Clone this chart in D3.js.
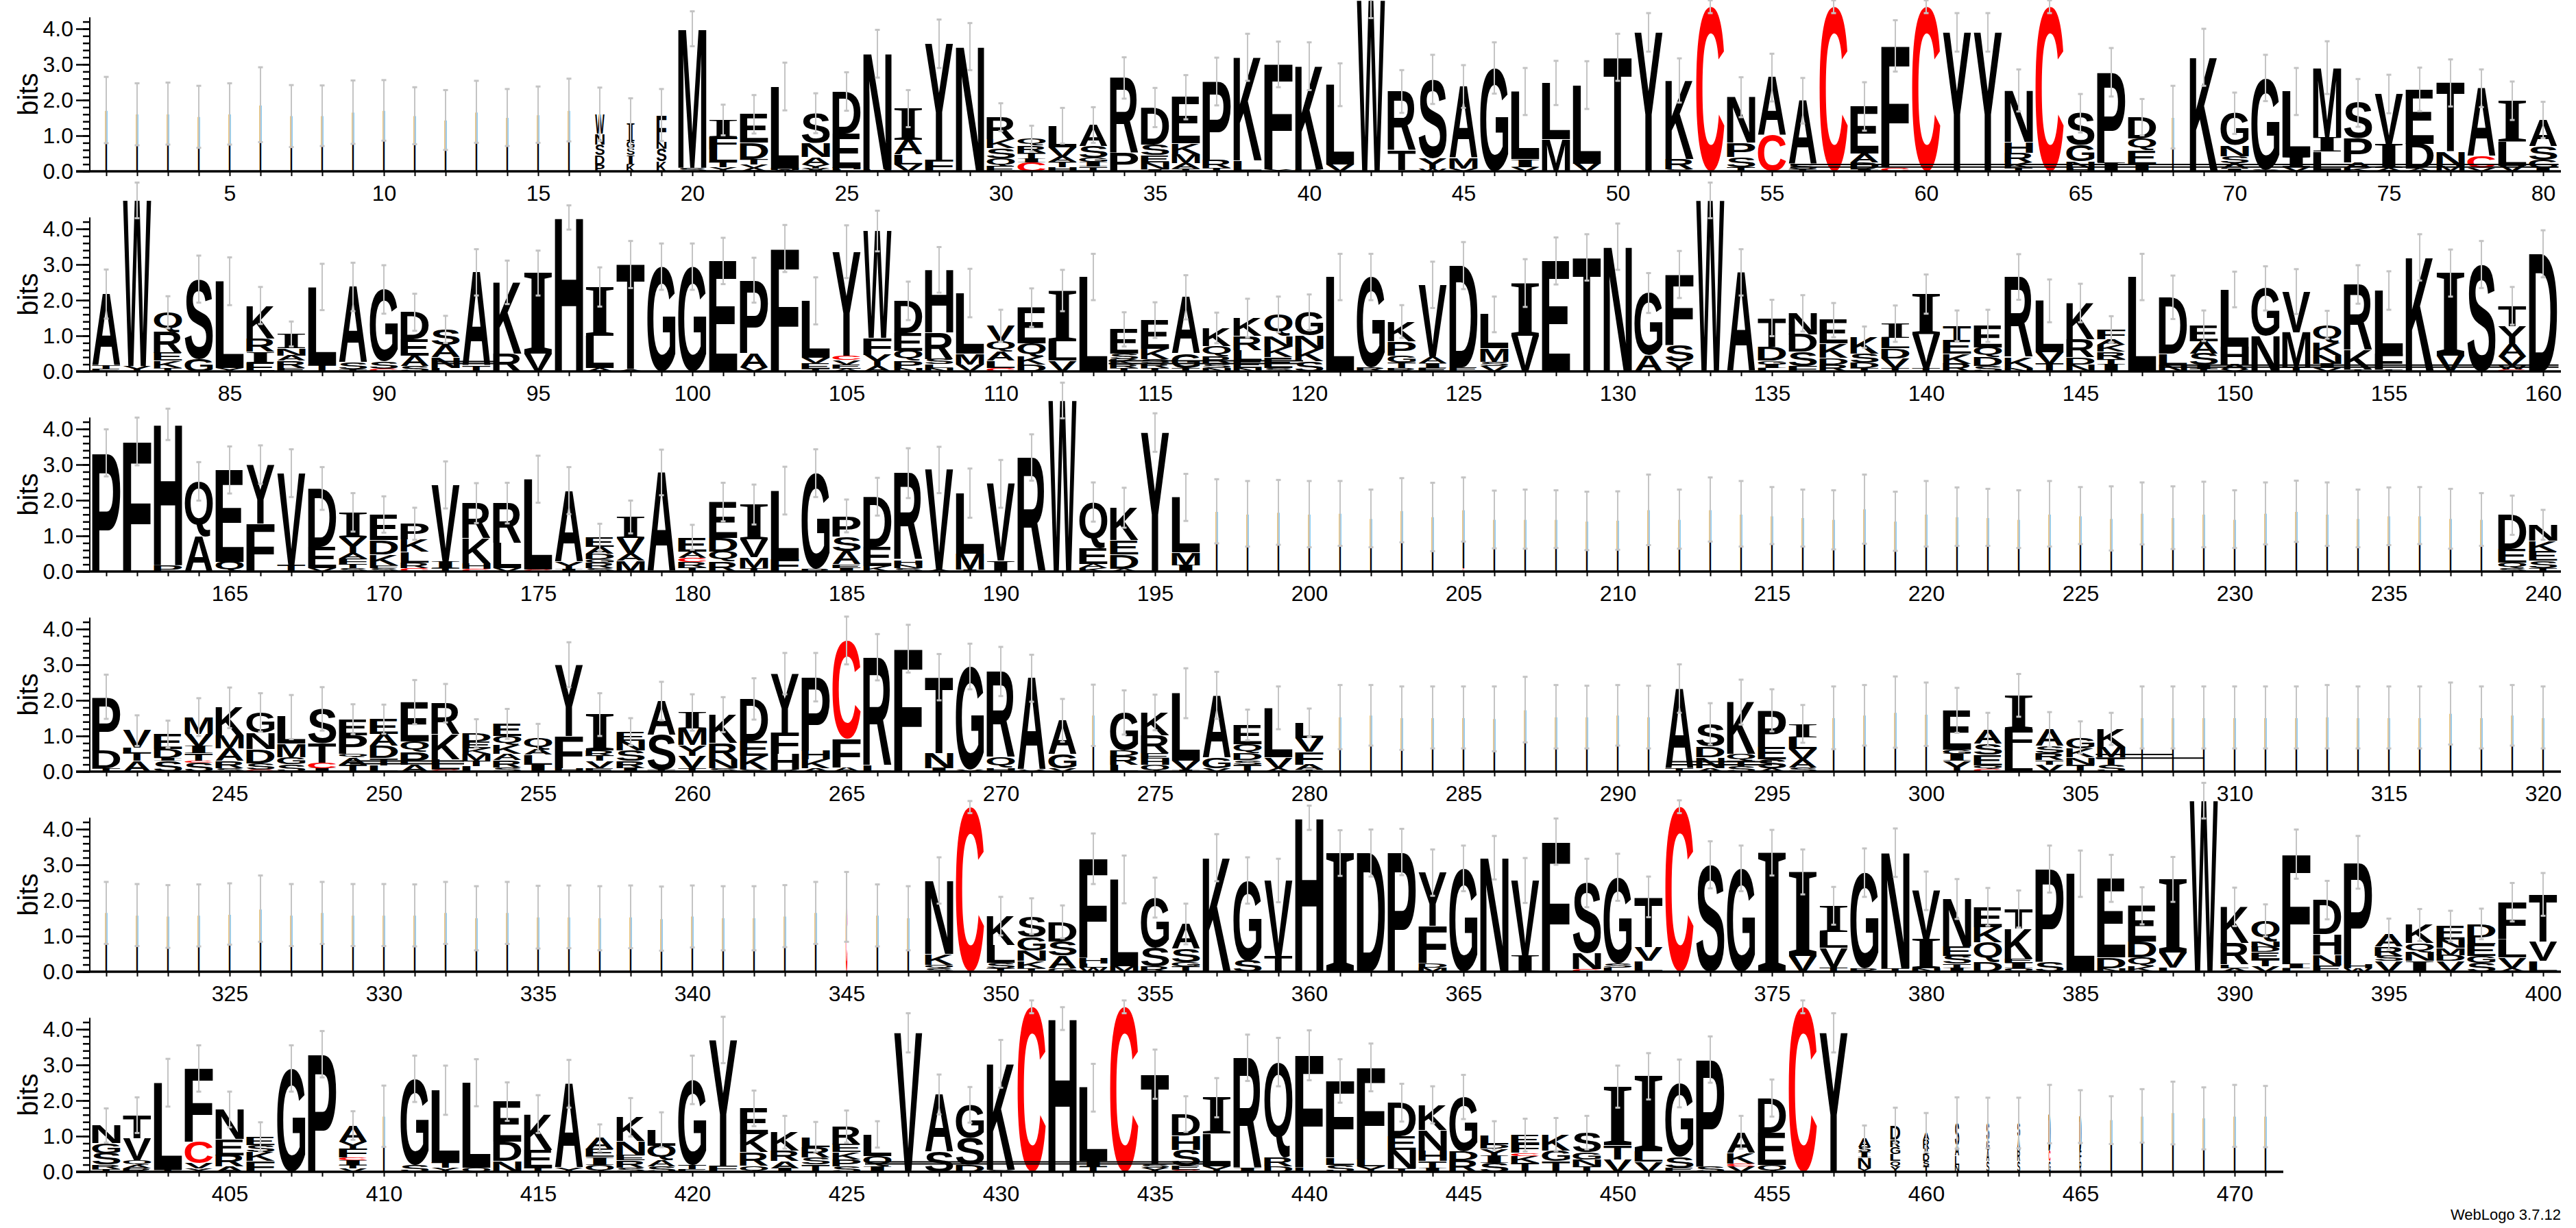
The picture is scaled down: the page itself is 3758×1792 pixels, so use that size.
<!DOCTYPE html>
<html>
<head>
<meta charset="utf-8">
<script src="https://cdn.jsdelivr.net/npm/d3@7"></script>
<style>
  body { margin: 0; background: #fff; }
</style>
</head>
<body>
<svg id="logo" width="3758" height="1792"></svg>
<script>
// each stack: "letter+bits" from bottom to top
const row1 = [
"I1.72","I1.6","I1.62","I1.53","I1.61","I1.87","I1.55","I1.56","I1.66","I1.71",
"I1.56","I1.44","I1.67","I1.51","I1.59","I1.72","P.2 D.25 S.3 N.3 W.55","K.2 I.25 S.2 G.2 I.5","K.28 S.35 N.2 F.75","S.1 M3.9",
"Y.12 T.15 L.35 F.35 I.47","A.1 V.1 T.15 D.45 E.8","A.04 H.04 L2.3","I.04 V.04 Y.12 A.2 N.4 S.83","L.05 H.05 E.95 D1.19","H.05 N3.25","V.2 L.27 A.42 I.87","F.33 Y3.25","E.02 N3.48","E.15 Q.22 S.28 K.25 R.62",
"C.25 I.1 T.17 R.2 Q.2","H.12 T.14 A.14 V.28 L.6","T.13 I.13 G.12 S.32 A.6","P.52 R2.1","I.05 N.2 E.2 S.3 D1.04","T.08 A.15 M.25 K.3 E1.3","T.1 R.22 P2.2","L.3 K2.9","Y.05 F2.95","R.05 K2.9",
"V.2 L2.23","W4.8","S.03 T.55 R1.66","W.08 Y.3 S2.2","V.08 M.3 A2.0","G2.9","V.12 I.22 L1.9","M.9 L1.58","V.22 L2.2","T3.2",
"Y3.9","S.05 R.3 K2.2","C4.62","T.12 S.28 P.4 N1.28","C1.0 A1.63","T.05 S.15 A1.78","C4.62","I.05 D.2 A.25 E1.32","C.1 F3.42","C4.62",
"Y3.9","Y3.9","T.1 K.15 R.27 H.3 N1.45","C4.62","H.1 N.18 G.45 S.9","I.25 P2.53","I.2 E.4 Q.32 D.6","I1.52","K3.2","I.08 A.15 S.2 N.3 G.9",
"S.05 G2.57","V.13 I.27 L1.84","L.55 I.4 M1.96","K.1 A.15 P.67 S1.0","A.1 I.67 V1.4","A.07 D.7 E1.53","M.15 N.4 T1.93","V.1 C.32 A1.91","V.16 L.67 I1.15","I.1 G.22 S.38 A.74"
];
const row2 = [
"E.07 T.1 A2.0","Y.15 W4.65","T.1 K.2 E.22 R.6 Q.54","G.35 S2.24","Y.1 L2.43","E.25 I.3 R.38 K.92","E.1 R.2 A.15 N.2 I.4","T.2 L2.17","T.05 S.2 A2.12","C.08 S.2 G2.02",
"S.15 A.3 E.46 D.75","L.1 N.3 A.35 S.43","T.15 A2.63","R.5 K2.0","V.5 I2.26","H4.32","A.1 L.9 I1.37","A.05 T2.95","G2.94","G2.94",
"E3.1","V.12 A.4 P2.04","F3.45","T.08 E.15 V.15 L1.6","A.08 E.12 V.12 C.12 Y2.92","A.15 Y.32 F.47 W3.0","N.1 P.2 Q.28 E.5 D.9","N.1 L.1 S.15 R.75 H1.75","V.2 M.3 L1.7","C.1 L.2 A.25 Q.3 V.43",
"D.2 K.22 Q.37 E1.0","V.3 L.55 I1.42","L2.65","T.1 R.1 K.15 S.15 E.68","T.1 R.12 S.12 K.3 E.8","T.1 G.4 A1.58","N.1 S.12 R.2 Q.3 K.5","N.1 E.2 L.3 R.4 K.5","S.1 E.3 K.3 N.3 Q.6","S.28 K.35 N.38 G.65",
"L2.65","R.12 G2.53","R.1 T.15 G.2 P.4 K.55","E.1 I.12 A.18 V2.03","E.12 D2.85","V.15 S.12 M.38 L.95","V1.0 I1.48","E3.1","T3.2","N3.5",
"A.45 G1.75","Y.28 S.45 F1.99","W4.8","A2.78","L.1 I.1 G.1 D.4 T.8","F.15 S.4 D.48 N.6","R.2 D.18 K.4 E.66","T.1 D.15 S.25 K.46","T.1 V.27 D.28 L.3 I.39","T.1 V.95 I1.12",
"R.22 K.28 E.38 T.4","S.15 D.25 Q.27 E.61","N.1 K.3 R2.25","T.22 V.32 L1.44","N.2 D.2 R.5 K1.02","I.2 T.15 R.2 K.2 A.15 F.28","L2.65","N.2 L.3 D1.58","T.08 I.1 S.32 A.35 E.43","V.05 A.15 H.5 L1.6",
"N1.0 G1.33","T.12 M.98 V1.14","V.1 I.12 N.25 K.35 Q.49","T.05 K.55 R1.84","T.05 F.45 L1.77","K3.2","V.45 I2.31","S3.0","C.05 W.12 V.25 A.35 Y.5 T.57","D3.3"
];
const row3 = [
"P3.33","F3.65","P.18 H3.95","A1.0 Q1.53","Q.27 E2.58","F1.35 Y1.65","T.2 V2.56","V.1 E.6 D1.63","S.1 T.12 F.14 A.15 Y.45 I.7","S.1 F.08 K.3 D.4 E.72",
"C.1 R.15 L.3 K.35 P.44","T.1 I.18 V2.15","C.08 H.15 K.7 R.99","V.1 L.7 R1.12","C.05 L2.54","I.08 Y.2 A1.99","S.1 R.15 G.1 D.15 A.2 E.26","M.3 A.2 V.45 I.58","A2.78","T.12 R.15 C.12 A.17 E.4",
"R.28 Q.28 D.38 E1.01","T.1 M.3 V.5 I.98","F.35 L1.92","R.08 G2.68","I.1 E.1 A.38 S.4 P.58","K.15 E.55 D1.4","S.1 N.1 H.12 R2.44","A.05 V2.8","I.05 M.45 L1.7","I.3 V2.16",
"R3.2","W4.8","K.1 A.12 E.45 Q1.28","A.08 D.4 E.4 K.91","Y3.9","I.18 M.35 L1.55","I1.69","I1.62","I1.66","I1.61",
"I1.63","I1.49","I1.72","I1.53","C.1 I1.64","I1.46","I1.47","I1.47","I1.42","I1.43",
"I1.73","I1.47","I1.74","I1.62","I1.57","I1.5","I1.45","I1.75","I1.41","I1.62",
"I1.54","I1.52","I1.47","I1.62","I1.57","I1.49","I1.63","I1.51","I1.6","I1.47",
"I1.63","I1.69","I1.61","I1.49","I1.55","I1.57","I1.48","I1.46","S.1 Q.15 E.38 D.95","T.1 S.2 E.26 K.3 N.45"
];
const row4 = [
"T.1 D.5 P1.5","A.3 T.22 L.15 V.48","S.3 I.08 D.25 E.42","S.25 C.06 T.2 I.2 V.35 M.47","S.1 R.2 A.35 M.36 K.78","C.05 S.18 D.4 N.45 G.58","S.2 G.2 M.38 L.75","I.1 C.15 T.55 S.96","T.2 A.2 Q.1 P.52 E.45","L.18 T.2 D.35 A.32 E.42",
"A.2 P.35 Q.3 E1.1","C.05 L.3 K.7 R.87","L.15 T.15 M.2 K.15 E.2 D.23","S.12 R.2 A.18 K.25 Q.25 E.34","I.2 L.28 A.15 Q.33","H.1 F.9 Y2.0","E.1 V.2 T.15 R.15 I1.0","I.1 R.2 S.3 N.27 E.25","T.05 S.98 A.95","T.1 V.35 Y.3 M.46 I.45",
"S.1 N.25 R.45 K.8","S.05 K.4 E.42 D1.17","R.05 H.45 F.6 Y1.65","A.1 K.25 H.25 P2.05","A.12 F.8 C2.76","L.18 R3.03","F3.45","I.1 N.42 T2.13","V.05 G2.9","H.1 Q.3 R2.41",
"V.05 A2.57","V.1 G.4 A.94","I1.58","L.2 R.25 D.15 G1.06","Q.2 H.16 E.15 R.5 K.65","I.05 V.25 L1.9","V.1 G.3 A1.74","T.2 S.12 D.2 Q.25 E.54","A.1 V.3 L1.39","T.05 A.15 F.35 V.4 L.42",
"I1.53","I1.58","I1.5","I1.52","I1.52","I1.48","I1.74","I1.54","I1.53","I1.58",
"I1.53","T.1 A2.23","A.1 N.3 D.3 S.64","S.15 T.15 Q.2 K1.45","A.1 S.25 E.35 P1.02","S.12 A.22 V.3 L.33 I.37","I1.51","I1.58","I1.67","I1.61",
"Y.3 I.2 G.12 E1.1","C.08 Q.1 E.3 S.3 A.4","L.6 F.6 I.94","V.2 T.12 R.2 S.2 A.46","T.2 N.2 K.25 G.31","S.2 T.2 M.3 K.5","I1.52","I1.52","I1.52","I1.52",
"I1.52","I1.52","I1.54","I1.52","I1.52","I1.52","I1.63","I1.52","I1.58","I1.52"
];
const row5 = [
"I1.65","I1.59","I1.55","I1.58","I1.62","I1.77","I1.59","I1.65","I1.59","I1.59",
"I1.58","I1.65","I1.5","I1.65","I1.53","I1.54","I1.5","I1.54","I1.49","I1.55",
"I1.5","I1.5","I1.56","I1.65","C1.82","I1.58","I1.5","S.1 Q.1 K.3 N2.06","C4.62","T.1 S.15 L.5 K.81",
"T.1 K.2 N.3 G.38 S.58","G.1 A.35 S.4 D.55","W.12 L.12 H.15 F2.78","M.15 L2.44","R.15 S.53 G1.4","T.15 G.12 S.38 A.69","K3.2","S.32 G2.24","T.45 V2.11","H4.32",
"I3.33","D3.33","P3.36","M.12 D.12 F1.05 Y1.49","G2.9","N3.2","I.45 V2.11","F3.65","C.07 N.45 S1.97","L.12 S.12 G2.41",
"L.3 V.4 T1.4","C4.63","S3.0","G2.9","I3.34","V.45 I2.35","T.12 V.55 L.45 I.73","R.1 G2.68","T.1 N3.24","N.1 I.82 V1.35",
"I.1 T.13 S.22 E.26 N1.33","D.28 Q.55 K.42 E.57","Q.1 I.15 E.12 K.84 T.55","S.28 P2.6","L2.75","N.1 D.3 E2.22","K.15 Q.25 D.45 E1.0","L.12 V.42 I2.05","W4.8","A.1 L.1 R.6 K1.02",
"V.15 T.2 E.2 D.15 N.15 Q.59","L.1 I.12 F3.08","E.18 N.3 H.58 D.95","W.1 H.12 P2.85","V.3 S.15 R.25 A.35","I.3 N.25 Q.25 K.51","V.3 D.17 M.2 N.23 E.38","S.25 G.2 E.32 L.2 D.37","A.1 V.3 L.5 F1.05","L.3 V.55 T1.32"
];
const row6 = [
"T.08 R.12 S.32 G.28 N.5","R.1 A.1 Q.12 V.62 T.65","T.05 L2.45","Y.1 V.15 C.6 F2.05","A.15 R.32 E.45 N.83","F.3 K.25 S.2 E.23","G2.9","P3.3","V.1 T.1 I.12 C.08 F.25 Y.2 A.45","I1.56",
"S.2 G2.41","Y.12 T.15 L2.02","Q.12 L2.38","N.3 D.55 E1.12","T.12 E.5 K1.0","Y.12 A2.35","Q.2 I.22 E.22 A.31","S.12 R.2 E.15 N.4 K.66","S.15 A.18 Q.4 L.45","E.08 T.12 G2.38",
"F.17 Y3.53","Q.17 R.38 K.5 E.73","I.1 A.2 R.3 K.51","T.2 S.2 R.3 L.28","S.15 P.2 K.2 E.22 R.5","I.15 Q.3 L.6","V3.9","S.57 A1.6","D.2 S.75 G.93","S.05 K2.98",
"C4.63","H4.3","T.15 I.15 L2.06","C4.63","Y.12 S.1 T2.52","C.05 E.12 S.45 H.4 D.6","Y.15 L.92 I1.01","I.1 R3.1","D.15 R.25 Q2.68","L.12 F3.15",
"S.2 L.2 F2.15","Y.15 L.2 F2.58","T.1 N.52 E.38 D.94","I.1 T.2 H.3 N.58 K.7","R.32 D.25 G1.53","S.25 I.2 Y.2 D.12 L.25","T.25 K.2 C.08 F.25 E.25","T.3 G.3 K.45","T.15 N.2 G.2 S.55","V.35 T.4 I1.64",
"V.28 L.3 I2.1","E.12 S.3 G2.06","S.15 P3.0","V.15 C.08 K.3 A.58","Q.2 E.9 D.97","C4.63","Y3.9","Y.1 N.3 I.15 S.15 A.25","Y.15 Q.15 L.2 G.2 R.2 D.4","T.15 S.15 D.2 I.15 R.25 A.2",
"N.2 L.25 A.3 S.62","S.3 A.3 G.3 S.47","S.3 R.3 A.4 S.37","G.3 C.3 D1.02","R.3 F.3 D.95","I1.45","I1.57","I1.65","I1.5","I1.57",
"I1.55"
];

// error bar half-lengths (bits)
const err1 = [.93,.87,.87,.87,.86,1.05,.87,.85,.89,.85,.8,.84,.87,.8,.79,.88,.75,.7,.73,.49,
.43,.54,.67,.56,.54,.67,.52,.68,.66,.39,.36,.5,.5,.58,.55,.62,.67,.66,.64,.67,
.6,.5,.6,.69,.6,.72,.66,.62,.67,.66,.54,.62,.18,.56,.67,.64,.18,.68,.72,.18,
.54,.54,.59,.18,.54,.68,.51,.88,.8,.58,.65,.66,.74,.67,.54,.61,.66,.53,.54,.51];
const err2 = [.69,.5,.45,.66,.67,.52,.35,.65,.68,.68,.52,.38,.65,.61,.63,.34,.55,.66,.65,.65,
.65,.63,.66,.66,.74,.57,.54,.64,.68,.45,.54,.58,.65,.48,.5,.62,.43,.54,.5,.5,
.65,.65,.46,.65,.66,.5,.67,.66,.65,.65,.56,.66,.5,.65,.51,.51,.48,.3,.51,.55,
.43,.45,.64,.6,.54,.37,.65,.61,.43,.5,.62,.63,.39,.54,.54,.65,.66,.66,.53,.66];
const err3 = [.66,.67,.44,.54,.66,.54,.67,.6,.54,.51,.45,.66,.56,.57,.66,.66,.38,.46,.64,.35,
.54,.56,.67,.67,.46,.53,.7,.65,.69,.67,.65,.5,.55,.56,.54,.66,.9,.92,.91,.93,
.91,.81,.9,.96,.9,.81,.83,.81,.82,.82,.99,.83,.9,.92,.8,.8,.83,.97,.83,.92,
.82,.8,.81,.92,.8,.9,.87,.88,.92,.81,.87,.86,.89,.81,.81,.8,.84,.74,.55,.42];
const err4 = [.62,.43,.38,.53,.57,.54,.62,.61,.42,.41,.62,.54,.39,.42,.38,.63,.6,.38,.54,.51,
.49,.58,.58,.68,.67,.65,.67,.65,.64,.69,.66,.6,.86,.62,.5,.7,.66,.43,.6,.4,
.9,.85,.89,.87,.87,.91,.92,.89,.88,.85,.88,.68,.58,.63,.59,.53,.88,.85,1.0,.89,
.63,.47,.6,.49,.45,.45,.87,.87,.87,.87,.87,.87,.89,.87,.87,.87,.87,.87,.85,.87];
const err5 = [.87,.87,.88,.87,.86,.93,.87,.87,.87,.87,.87,.87,.9,.87,.88,.88,.9,.88,.9,.87,
.9,.9,.87,.87,.98,.87,.9,.65,.17,.54,.5,.46,.71,.67,.56,.57,.66,.65,.61,.34,
.64,.66,.65,.65,.64,.61,.63,.65,.68,.66,.57,.18,.66,.64,.64,.63,.53,.68,.68,.54,
.56,.53,.52,.66,.65,.66,.52,.63,.5,.54,.45,.69,.54,.74,.44,.45,.43,.43,.54,.6];
const err6 = [.48,.5,.67,.65,.5,.41,.65,.65,.4,.86,.65,.69,.66,.54,.53,.67,.38,.54,.49,.68,
.65,.5,.46,.42,.45,.37,.55,.56,.5,.67,.18,.32,.67,.18,.69,.5,.55,.65,.68,.7,
.61,.67,.53,.52,.62,.4,.46,.46,.47,.59,.65,.67,.65,.46,.52,.18,.55,.35,.5,.55,
.72,.71,.71,.82,.74,.67,.75,.88,.87,.87,.86];

// stacks drawn narrower than full width: [first, last, fraction]
const narrowRanges = [[1,16,0.03],[17,17,0.33],[18,18,0.28],[19,19,0.35],[68,68,0.03],
  [197,238,0.03],[273,273,0.03],[281,291,0.03],[297,300,0.03],[307,320,0.03],[321,347,0.03],
  [410,410,0.03],[458,458,0.45],[459,459,0.35],[460,460,0.22],[461,461,0.15],[462,463,0.1],
  [464,465,0.07],[466,467,0.05],[468,471,0.03]];

// flattened residue strokes near the baseline: [from position, to position, bits]
const flatBars = [[55.6,80.5,.12],[55.6,80.5,.19],[91.6,93.7,.22],[91.6,93.7,.28],
  [113.5,119.8,.22],[113.5,119.8,.3],[147.6,160.5,.12],[147.6,160.5,.18],
  [248.9,252.6,.22],[248.9,252.6,.3],[291.6,295,.19],[291.6,295,.28],
  [305.5,309,.38],[305.5,308,.48],[425.6,437.4,.22],[425.6,437.4,.28]];

const rowStarts = [1, 81, 161, 241, 321, 401];
const yTicks = [0, 1, 2, 3, 4];

const rows = [row1, row2, row3, row4, row5, row6];
const errs = [err1, err2, err3, err4, err5, err6];

const svg = d3.select('#logo');
svg.append('rect').attr('width', 3758).attr('height', 1792).attr('fill', '#fff');

const slot = 45, glyphW = 41, bitPx = 52, rowGap = 292, firstBase = 250, xLeft = 132.5, axisX = 131;
const maxBits = Math.log2(20);
const FS = 200;

const cv = document.createElement('canvas').getContext('2d');
const metrics = {};
// serif I-beam for normal stacks, plain bar when the stack is only a sliver
function family(ch, w) { return ch === 'I' && w > 6 ? "'Liberation Serif'" : "'Liberation Sans'"; }
function ink(ch, fam) {
  const key = ch + fam;
  if (!metrics[key]) {
    cv.font = `bold ${FS}px ${fam}`;
    const m = cv.measureText(ch);
    metrics[key] = { l: m.actualBoundingBoxLeft, r: m.actualBoundingBoxRight,
                     a: m.actualBoundingBoxAscent, d: m.actualBoundingBoxDescent };
  }
  return metrics[key];
}
function parse(s) {
  return s.split(' ').map(t => ({ c: t[0], h: +t.slice(1) }));
}
function widthOf(pos) {
  const r = narrowRanges.find(d => pos >= d[0] && pos <= d[1]);
  return r ? r[2] : 1;
}

rows.forEach((data, r) => {
  const start = rowStarts[r];
  const base = firstBase + r * rowGap;
  const x = d3.scaleLinear().domain([start - 0.5, start + 79.5]).range([xLeft, xLeft + 80 * slot]);
  const y = d3.scaleLinear().domain([0, maxBits]).range([base, base - maxBits * bitPx]);
  const g = svg.append('g');

  // letters
  const letters = g.append('g');
  data.forEach((s, i) => {
    const pos = start + i;
    const w = Math.max(glyphW * widthOf(pos), 2.4);
    let acc = 0;
    parse(s).forEach(({ c, h }) => {
      const top = y(acc + h), bot = y(acc);
      acc += h;
      const fam = family(c, w);
      const m = ink(c, fam);
      const sx = w / (m.l + m.r), sy = (bot - top) / (m.a + m.d);
      letters.append('text')
        .attr('transform', `translate(${x(pos) - w / 2},${top}) scale(${sx},${sy}) translate(${m.l},${m.a})`)
        .attr('font-family', fam)
        .attr('font-weight', 'bold')
        .attr('font-size', FS)
        .attr('fill', c === 'C' ? '#ff0000' : '#000')
        .text(c);
    });
  });

  // thin flattened strokes
  const end = start + data.length - 1;
  flatBars.filter(d => d[0] >= start - 0.5 && d[0] <= end + 0.5).forEach(d => {
    g.append('line').attr('x1', x(d[0])).attr('x2', x(Math.min(d[1], end + 0.5)))
      .attr('y1', y(d[2])).attr('y2', y(d[2])).attr('stroke', '#000').attr('stroke-width', 2);
  });

  // error bars
  const eb = g.append('g').attr('fill', '#c4c4c4').attr('stroke', '#c4c4c4');
  data.forEach((s, i) => {
    const pos = start + i;
    const tot = d3.sum(parse(s), d => d.h);
    const e = errs[r][i];
    const cx = x(pos);
    eb.append('line').attr('x1', cx).attr('x2', cx)
      .attr('y1', y(tot + e)).attr('y2', y(Math.max(tot - e, 0))).attr('stroke-width', 2);
    [tot + e, tot - e].forEach(v => {
      if (v > 0) eb.append('rect').attr('x', cx - 3.5).attr('y', y(v) - 1.5)
        .attr('width', 7).attr('height', 3).attr('stroke', 'none');
    });
  });

  // y axis
  g.append('line').attr('x1', axisX).attr('x2', axisX)
    .attr('y1', y(0)).attr('y2', y(maxBits)).attr('stroke', '#000').attr('stroke-width', 2);
  g.append('g').attr('transform', `translate(${axisX},0)`)
    .call(d3.axisLeft(y).tickValues(d3.range(0, 4.3, 0.2)).tickSize(10).tickFormat(''))
    .call(a => { a.select('.domain').remove(); a.selectAll('line').attr('stroke-width', 2.5); });
  g.append('g').attr('transform', `translate(${axisX},0)`)
    .call(d3.axisLeft(y).tickValues(yTicks).tickSize(20).tickPadding(4).tickFormat(d3.format('.1f')))
    .call(a => {
      a.select('.domain').remove();
      a.attr('font-size', 32).attr('font-family', "'Liberation Sans', Arial, sans-serif");
      a.selectAll('line').attr('stroke-width', 2.5);
    });

  // x axis
  const n = data.length;
  g.append('g').attr('transform', `translate(0,${base})`)
    .call(d3.axisBottom(x).tickValues(d3.range(start, start + n)).tickSize(7).tickPadding(13)
      .tickFormat(d => d % 5 === 0 ? d : ''))
    .call(a => {
      a.select('.domain').remove();
      a.attr('font-size', 32).attr('font-family', "'Liberation Sans', Arial, sans-serif");
      a.selectAll('line').attr('stroke-width', 2);
    });
  g.append('line').attr('x1', 111).attr('x2', x(start + n - 1) + 26)
    .attr('y1', base).attr('y2', base).attr('stroke', '#000').attr('stroke-width', 3.4);

  g.append('text')
    .attr('transform', `translate(55,${y(maxBits / 2)}) rotate(-90)`)
    .attr('text-anchor', 'middle')
    .attr('font-family', "'Liberation Sans', Arial, sans-serif")
    .attr('font-size', 40)
    .text('bits');
});

svg.append('text').attr('x', 3736).attr('y', 1780).attr('text-anchor', 'end')
  .attr('font-family', "'Liberation Sans', Arial, sans-serif").attr('font-size', 22)
  .text('WebLogo 3.7.12');
</script>
</body>
</html>
